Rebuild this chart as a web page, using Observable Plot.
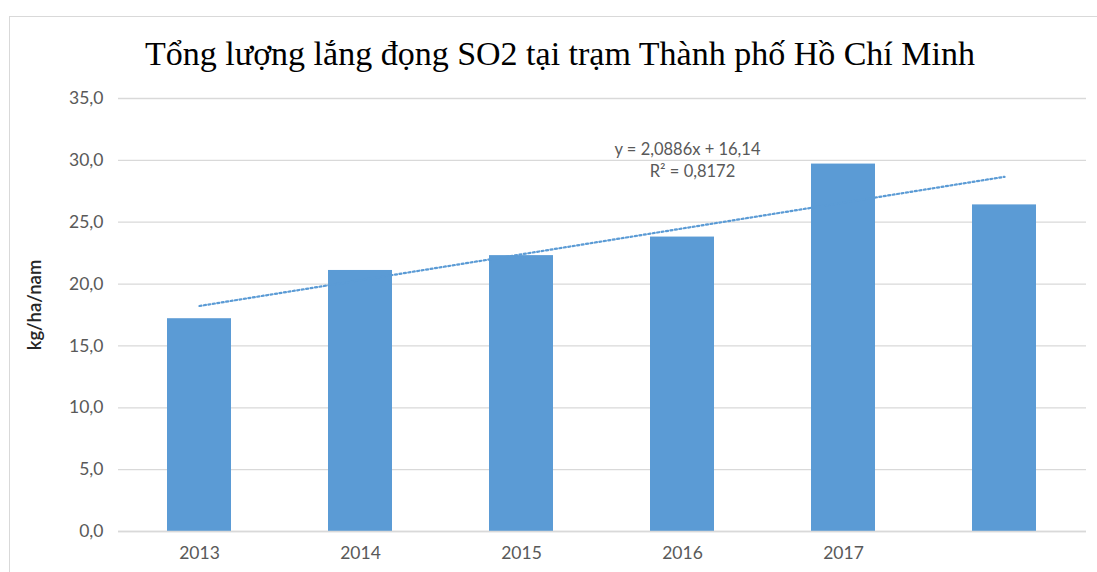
<!DOCTYPE html>
<html>
<head>
<meta charset="utf-8">
<script src="https://cdn.jsdelivr.net/npm/d3@7"></script>
<script src="https://cdn.jsdelivr.net/npm/@observablehq/plot@0.6"></script>
<style>
  html, body { margin: 0; padding: 0; background: #fff; }
  #wrap { position: relative; width: 1097px; height: 572px; overflow: hidden; }
  #frame { position: absolute; left: 9px; top: 16px; width: 1200px; height: 700px; border: 1px solid #d9d9d9; box-sizing: border-box; }
  #title { position: absolute; left: 0; top: 0; width: 1120px; height: 80px; text-align: center; font-family: "Liberation Serif", "DejaVu Serif", serif; font-size: 34px; line-height: 34px; padding-top: 37px; box-sizing: border-box; color: #000; }
  #chart { position: absolute; left: 0; top: 80px; }
</style>
</head>
<body>
<div id="wrap">
  <div id="frame"></div>
  <div id="title">Tổng lượng lắng đọng SO2 tại trạm Thành phố Hồ Chí Minh</div>
  <div id="chart"></div>
</div>
<script>
const years = ["2013", "2014", "2015", "2016", "2017", ""];
const values = [17.2, 21.1, 22.3, 23.8, 29.7, 26.4];
const yTicks = [0, 5, 10, 15, 20, 25, 30, 35];
const trendSlope = 2.0886;
const trendIntercept = 16.14;
const trendText = ["y = 2,0886x + 16,14", "R² = 0,8172"];
const yLabel = "kg/ha/nam";

const bars = years.map((y, i) => ({year: y, value: values[i]}));
const trend = [0, years.length - 1].map(i => ({year: years[i], value: trendIntercept + trendSlope * (i + 1)}));
const fmt = v => d3.format(".1f")(v).replace(".", ",");

const chart = Plot.plot({
  width: 1097,
  height: 492,
  marginTop: 18,
  marginBottom: 41,
  marginLeft: 118,
  marginRight: 11,
  style: {fontFamily: "Lato, 'Open Sans', sans-serif", fontSize: "17px", color: "#595959", background: "transparent"},
  x: {domain: years, paddingInner: 0.6, paddingOuter: 0.3, label: null},
  y: {domain: [0, 35], label: null},
  marks: [
    Plot.gridY(yTicks, {stroke: "#d9d9d9", strokeOpacity: 1, strokeWidth: 1.3}),
    Plot.barY(bars, {x: "year", y: "value", fill: "#5b9bd5"}),
    Plot.ruleY([0], {stroke: "#d9d9d9", strokeWidth: 1.3}),
    Plot.line(trend, {x: "year", y: "value", stroke: "#5b9bd5", strokeWidth: 2.2, strokeDasharray: "2,2.5"}),
    Plot.axisY(yTicks, {tickSize: 0, tickPadding: 15, tickFormat: fmt, fontSize: 17.5, fill: "#595959", label: null}),
    Plot.axisX({tickSize: 0, tickPadding: 15, fontSize: 17.5, fill: "#595959", label: null}),
    Plot.text([trendText[0]], {x: () => years[3], y: () => 30.85, dx: 5, fontSize: 16.5, fill: "#595959"}),
    Plot.text([trendText[1]], {x: () => years[3], y: () => 29.05, dx: 10, fontSize: 16.5, fill: "#595959"}),
    Plot.text([yLabel], {frameAnchor: "left", textAnchor: "middle", rotate: -90, dx: -83, dy: -10, fontSize: 18.5, fontWeight: 600, fill: "#262626"})
  ]
});
document.getElementById("chart").appendChild(chart);
</script>
</body>
</html>
